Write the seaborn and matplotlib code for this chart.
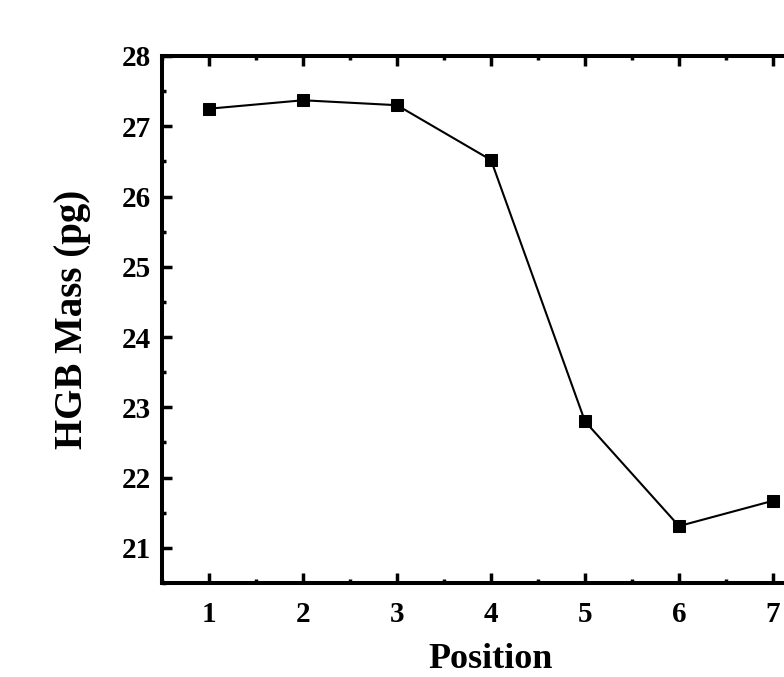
import matplotlib
matplotlib.use("Agg")
import matplotlib.pyplot as plt
import seaborn as sns
import pandas as pd
from matplotlib.ticker import MultipleLocator

# data
positions = [1, 2, 3, 4, 5, 6, 7]
hgb_mass = [27.25, 27.37, 27.30, 26.52, 22.80, 21.31, 21.67]

df = pd.DataFrame({"Position": positions, "HGB Mass (pg)": hgb_mass})

sns.set_style("ticks", {"axes.edgecolor": "black", "xtick.color": "black",
                        "ytick.color": "black", "text.color": "black",
                        "axes.labelcolor": "black"})
plt.rcParams["font.family"] = ["Liberation Serif", "DejaVu Serif"]
plt.rcParams["font.weight"] = "bold"

fig = plt.figure(figsize=(7.84, 6.77), dpi=100)
ax = fig.add_axes([162 / 784, 1 - 583 / 677, (820 - 162) / 784, (583 - 56) / 677])

sns.lineplot(data=df, x="Position", y="HGB Mass (pg)", ax=ax, color="black",
             marker="s", markersize=9, markeredgecolor="black", linewidth=1.5)

ax.set_xlim(0.5, 7.5)
ax.set_ylim(20.5, 28)
ax.xaxis.set_major_locator(MultipleLocator(1))
ax.xaxis.set_minor_locator(MultipleLocator(0.5))
ax.yaxis.set_major_locator(MultipleLocator(1))
ax.yaxis.set_minor_locator(MultipleLocator(0.5))

for s in ax.spines.values():
    s.set_linewidth(2.9)
    s.set_color("black")
    s.set_visible(True)

ax.tick_params(which="major", direction="in", length=7, width=2.5, labelsize=21,
               top=True, right=True, colors="black")
ax.tick_params(which="minor", direction="in", length=3, width=2.5, top=True, right=True)
ax.tick_params(axis="x", which="major", pad=13)
ax.tick_params(axis="y", which="major", pad=8)
for lab in ax.get_xticklabels() + ax.get_yticklabels():
    lab.set_fontweight("bold")

ax.set_xlabel("Position", fontsize=26, fontweight="bold", labelpad=11, color="black")
ax.set_ylabel("HGB Mass (pg)", fontsize=28, fontweight="bold", labelpad=22, color="black")

fig.savefig("out.png", dpi=100)
